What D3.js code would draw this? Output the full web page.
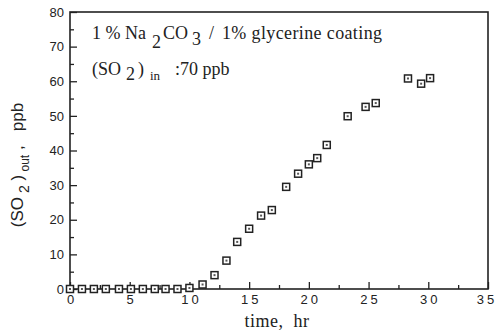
<!DOCTYPE html>
<html>
<head>
<meta charset="utf-8">
<script src="https://cdn.jsdelivr.net/npm/d3@7"></script>
<style>
  body { margin: 0; background: #fff; }
  svg text { fill: #222; white-space: pre; }
</style>
</head>
<body>
<div id="container"></div>
<script>
/* CONSTANTS AND GLOBALS */
const width = 497;
const height = 330;
const margin = { top: 12, right: 9, bottom: 41, left: 70 };

/* DATA */
const timeHr = [0, 1, 2, 3, 4.1, 5.1, 6.1, 7.1, 8, 9, 10, 11.1, 12.1, 13.1, 14, 15, 16, 16.9,
  18.1, 19.1, 20, 20.7, 21.5, 23.25, 24.75, 25.6, 28.3, 29.4, 30.15];
const so2Out = [0, 0, 0, 0, 0, 0, 0, 0, 0, 0, 0.3, 1.3, 4.0, 8.2, 13.6, 17.4, 21.2, 22.8,
  29.5, 33.3, 36.0, 37.8, 41.6, 49.9, 52.6, 53.7, 60.8, 59.3, 60.9];
const xTicks = [0, 5, 10, 15, 20, 25, 30, 35];
const yTicks = [0, 10, 20, 30, 40, 50, 60, 70, 80];

const data = timeHr.map((t, i) => ({ t, v: so2Out[i] }));

const svg = d3.select("#container").append("svg")
  .attr("width", width)
  .attr("height", height);

/* SCALES */
const xScale = d3.scaleLinear()
  .domain([0, 35])
  .range([margin.left, width - margin.right]);

const yScale = d3.scaleLinear()
  .domain([0, 80])
  .range([height - margin.bottom, margin.top]);

const pw = xScale(35) - xScale(0);
const ph = yScale(0) - yScale(80);

/* AXES (ticks point inward) */
const xAxis = d3.axisBottom(xScale)
  .tickValues(d3.range(0, 35.1, 2.5))
  .tickSize(-5)
  .tickFormat(d => xTicks.includes(d) ? d : "");

const yAxis = d3.axisLeft(yScale)
  .tickValues(d3.range(0, 80.1, 5))
  .tickSize(-5)
  .tickFormat(d => yTicks.includes(d) ? d : "");

const gx = svg.append("g")
  .attr("transform", `translate(0,${height - margin.bottom})`)
  .call(xAxis);
gx.select(".domain").remove();
gx.selectAll(".tick line")
  .attr("stroke", "#222")
  .attr("stroke-width", 1.3)
  .attr("y2", d => xTicks.includes(d) ? -7 : -4);
gx.selectAll(".tick text")
  .attr("y", 6)
  .attr("dx", d => d === 35 ? -1.5 : d >= 10 ? 1.5 : 0)
  .style("font-family", "'Liberation Sans', Arial, sans-serif")
  .style("font-size", "13px")
  .style("letter-spacing", d => d >= 10 ? "3px" : "0px");

const gy = svg.append("g")
  .attr("transform", `translate(${margin.left},0)`)
  .call(yAxis);
gy.select(".domain").remove();
gy.selectAll(".tick line")
  .attr("stroke", "#222")
  .attr("stroke-width", 1.3)
  .attr("x2", d => yTicks.includes(d) ? 7 : 4);
gy.selectAll(".tick text")
  .attr("x", -6)
  .style("font-family", "'Liberation Sans', Arial, sans-serif")
  .style("font-size", "13px");

/* FRAME */
svg.append("rect")
  .attr("x", xScale(0))
  .attr("y", yScale(80))
  .attr("width", pw)
  .attr("height", ph)
  .attr("fill", "none")
  .attr("stroke", "#222")
  .attr("stroke-width", 1.6);

/* POINTS */
const s = 7;
svg.selectAll("rect.pt")
  .data(data)
  .join("rect")
  .attr("class", "pt")
  .attr("x", d => xScale(d.t) - s / 2)
  .attr("y", d => yScale(d.v) - s / 2)
  .attr("width", s)
  .attr("height", s)
  .attr("fill", "#fff")
  .attr("stroke", "#222")
  .attr("stroke-width", 1.5);

svg.selectAll("rect.dot")
  .data(data)
  .join("rect")
  .attr("class", "dot")
  .attr("x", d => xScale(d.t) - 1)
  .attr("y", d => yScale(d.v) - 1)
  .attr("width", 2)
  .attr("height", 2)
  .attr("fill", "#555");

/* ANNOTATIONS */
const serif = "'Liberation Serif', 'Times New Roman', serif";
const t1 = svg.append("text")
  .attr("y", 39)
  .style("font-family", serif).style("font-size", "18px");
t1.append("tspan").attr("x", 92).text("1 % Na");
t1.append("tspan").attr("x", 152).attr("dy", 9).text("2");
t1.append("tspan").attr("x", 163).attr("dy", -9).text("CO");
t1.append("tspan").attr("x", 192).attr("dy", 6).text("3");
t1.append("tspan").attr("x", 209).attr("dy", -6).text("/");
t1.append("tspan").attr("x", 222).attr("textLength", 160).text("1% glycerine coating");

const t2 = svg.append("text")
  .attr("y", 75)
  .style("font-family", serif).style("font-size", "18px");
t2.append("tspan").attr("x", 92).text("(SO");
t2.append("tspan").attr("x", 126).attr("dy", 5).text("2");
t2.append("tspan").attr("x", 138).attr("dy", -5).text(")");
t2.append("tspan").attr("x", 150).attr("dy", 5).style("font-size", "13px").text("in");
t2.append("tspan").attr("x", 175).attr("dy", -5).text(":70 ppb");

/* AXIS LABELS */
svg.append("text")
  .attr("x", 277).attr("y", 327)
  .attr("text-anchor", "middle")
  .style("font-family", serif).style("font-size", "18px")
  .style("letter-spacing", "0.5px")
  .text("time,  hr");

const yl = svg.append("text")
  .attr("transform", `translate(23,165) rotate(-90)`)
  .attr("text-anchor", "middle")
  .style("font-family", "'Liberation Sans', Arial, sans-serif")
  .style("font-size", "17px");
yl.append("tspan").text("(SO");
yl.append("tspan").attr("dy", 6).style("font-size", "14px").text(" 2");
yl.append("tspan").attr("dy", -6).text(" )");
yl.append("tspan").attr("dy", 6).style("font-size", "12px").text(" out");
yl.append("tspan").attr("dy", -6).text(" ,   ppb");
</script>
</body>
</html>
